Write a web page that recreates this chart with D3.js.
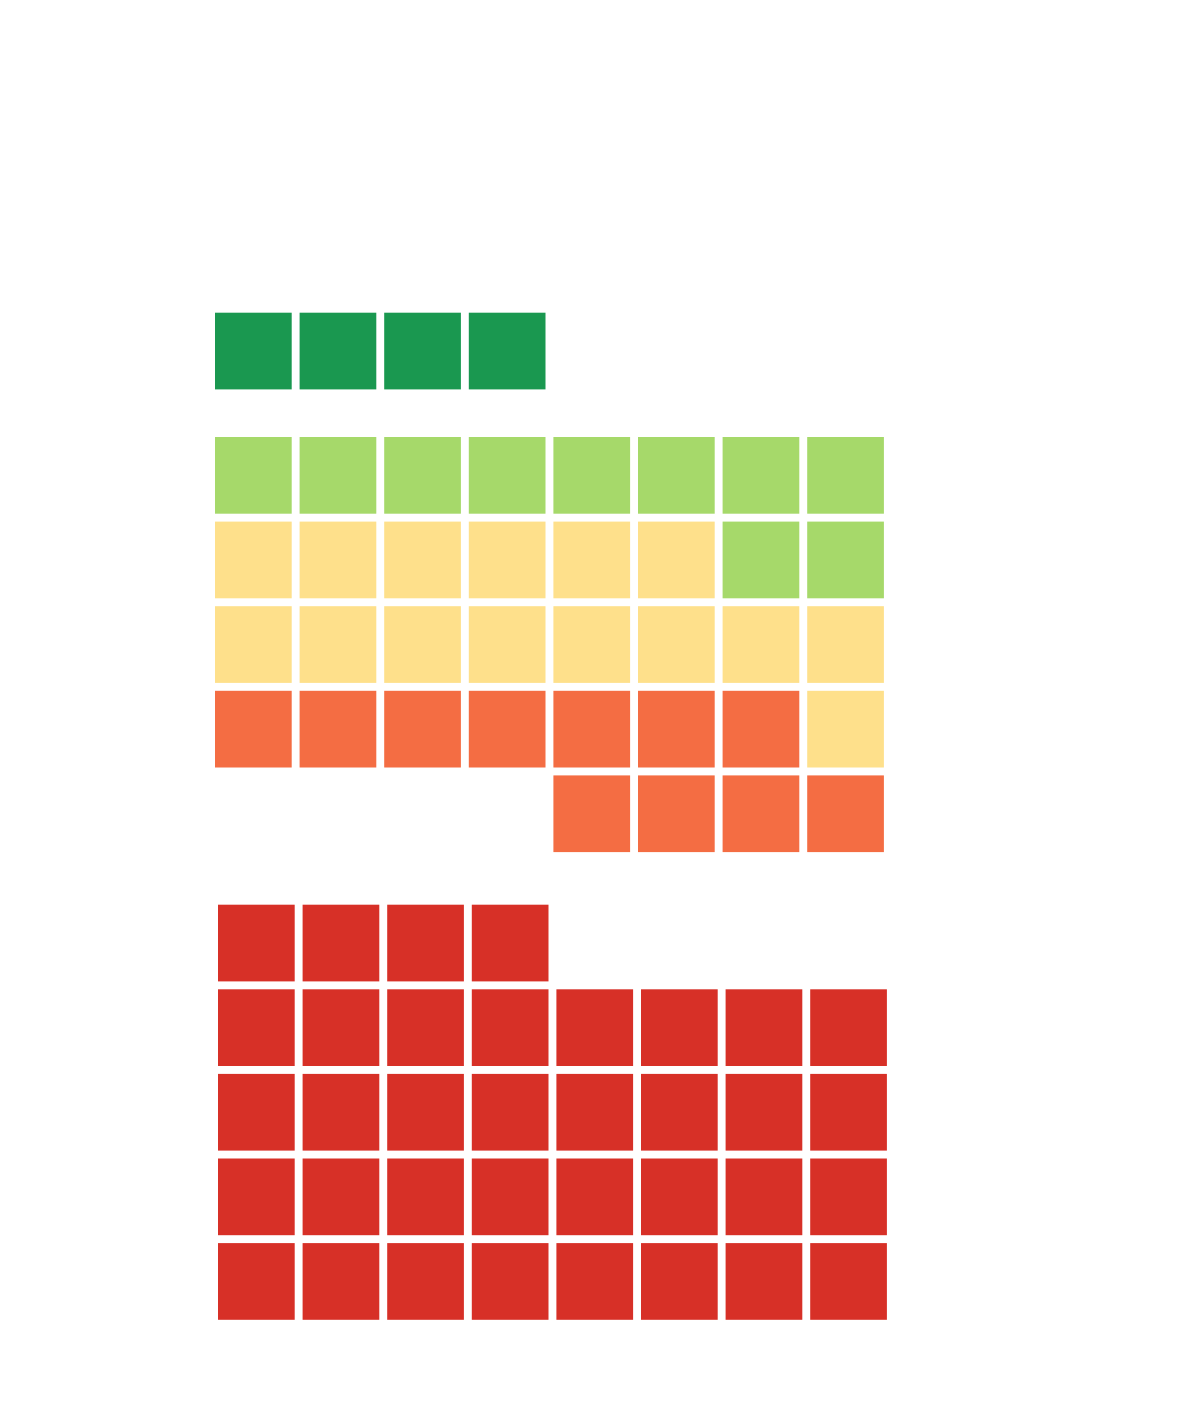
<!DOCTYPE html>
<html>
<head>
<meta charset="utf-8">
<script src="https://cdn.jsdelivr.net/npm/d3@7"></script>
<style>
  body { margin: 0; background: #fff; }
</style>
</head>
<body>
<div class="container"></div>
<script>
// one square per unit, five levels split into three blocks
let levels = ["level1", "level2", "level3", "level4", "level5"];
let counts = [4, 10, 15, 11, 36];
let blockOf = [0, 1, 1, 1, 2];
let colors = ["#1a9850", "#a6d96a", "#fee08b", "#f46d43", "#d73027"];

let cols = 8;

// where each block sits and which corner it fills from
let blocks = [
  { x: 215, y: 312.7, start: "bottom-left" },
  { x: 215, y: 437, start: "top-right" },
  { x: 218, y: 904.7, start: "bottom-left" },
];

var svg = d3
  .select(".container")
  .append("svg")
  .attr("width", 1200)
  .attr("height", 1420);

let colScale = d3
  .scaleBand()
  .domain(d3.range(cols))
  .range([0, 668.9])
  .paddingInner(0.0934)
  .paddingOuter(0);

let color = d3.scaleOrdinal().domain(levels).range(colors);

let makeCells = () => {
  let cells = [];
  blocks.forEach((b, bi) => {
    let items = [];
    levels.forEach((lv, li) => {
      if (blockOf[li] != bi) return;
      for (let k = 0; k < counts[li]; k++) items.push(lv);
    });
    let rows = Math.ceil(items.length / cols);
    items.forEach((lv, i) => {
      let r = Math.floor(i / cols);
      let c = i % cols;
      if (b.start == "top-right") c = cols - 1 - c;
      else r = rows - 1 - r;
      cells.push({ block: bi, row: r, col: c, level: lv });
    });
  });
  return cells;
};

let render = () => {
  let cells = makeCells();
  let rowScale = d3
    .scaleBand()
    .domain(d3.range(5))
    .range([0, 4 * colScale.step() + colScale.bandwidth()])
    .paddingInner(0.0934)
    .paddingOuter(0);

  svg
    .selectAll("g.block")
    .data(blocks)
    .enter()
    .append("g")
    .attr("class", "block")
    .attr("transform", (d) => `translate(${d.x},${d.y})`)
    .each(function (b, bi) {
      d3.select(this)
        .selectAll("rect")
        .data(cells.filter((c) => c.block == bi))
        .enter()
        .append("rect")
        .attr("x", (d) => colScale(d.col))
        .attr("y", (d) => rowScale(d.row))
        .attr("width", colScale.bandwidth())
        .attr("height", rowScale.bandwidth())
        .attr("fill", (d) => color(d.level));
    });
};

render();
</script>
</body>
</html>
